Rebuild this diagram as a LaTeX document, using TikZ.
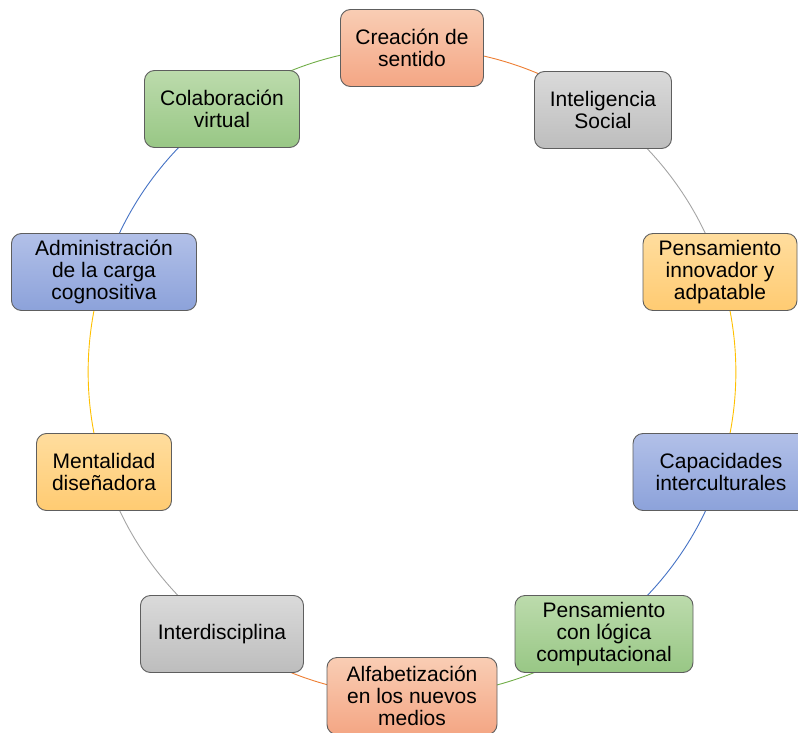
\documentclass[tikz,border=0pt]{standalone}
\usepackage{fontspec}
\setmainfont{Liberation Sans}
\usetikzlibrary{backgrounds}
\definecolor{orTop}{HTML}{F9CDB4}\definecolor{orBot}{HTML}{F4A684}\definecolor{orLine}{HTML}{ED7D31}
\definecolor{grTop}{HTML}{DADADA}\definecolor{grBot}{HTML}{BDBDBD}\definecolor{grLine}{HTML}{A5A5A5}
\definecolor{yeTop}{HTML}{FFDD9E}\definecolor{yeBot}{HTML}{FFCB72}\definecolor{yeLine}{HTML}{FFC000}
\definecolor{blTop}{HTML}{B2C0E8}\definecolor{blBot}{HTML}{8CA2DA}\definecolor{blLine}{HTML}{4472C4}
\definecolor{gnTop}{HTML}{BCDBAC}\definecolor{gnBot}{HTML}{98C785}\definecolor{gnLine}{HTML}{70AD47}
\definecolor{boxEdge}{HTML}{5E5E5E}
\tikzset{
  cbox/.style={draw=boxEdge, line width=0.9pt, rounded corners=10pt, align=center,
    inner sep=0pt, minimum height=77pt,
    font=\fontsize{21}{21.8}\selectfont},
  orbox/.style={cbox, top color=orTop, bottom color=orBot},
  grbox/.style={cbox, top color=grTop, bottom color=grBot},
  yebox/.style={cbox, top color=yeTop, bottom color=yeBot},
  blbox/.style={cbox, top color=blTop, bottom color=blBot},
  gnbox/.style={cbox, top color=gnTop, bottom color=gnBot},
  ring/.style={line width=0.9pt}
}
\begin{document}
\begin{tikzpicture}[x=1pt,y=-1pt]
\useasboundingbox (0,0) rectangle (798,733);
\node[orbox, minimum width=143pt] (n1) at (412,48) {Creación de\\sentido};
\node[grbox, minimum width=137pt] (n2) at (603,110) {Inteligencia\\Social};
\node[yebox, minimum width=154pt] (n3) at (720,272) {Pensamiento\\innovador y\\adpatable};
\node[blbox, minimum width=176pt] (n4) at (721,472) {Capacidades\\interculturales};
\node[gnbox, minimum width=178pt] (n5) at (604,634) {Pensamiento\\con lógica\\computacional};
\node[orbox, minimum width=170pt] (n6) at (412,696) {Alfabetización\\en los nuevos\\medios};
\node[grbox, minimum width=163pt] (n7) at (222,634) {Interdisciplina};
\node[yebox, minimum width=135pt] (n8) at (104,472) {Mentalidad\\diseñadora};
\node[blbox, minimum width=185pt] (n9) at (104,272) {Administración\\de la carga\\cognositiva};
\node[gnbox, minimum width=155pt] (n10) at (222,109) {Colaboración\\virtual};
\begin{scope}[on background layer]
\draw[ring, orLine] (n1.center) arc[start angle=-90, end angle=-54, radius=324];
\draw[ring, grLine] (n2.center) arc[start angle=-54, end angle=-18, radius=324];
\draw[ring, yeLine] (n3.center) arc[start angle=-18, end angle=18, radius=324];
\draw[ring, blLine] (n4.center) arc[start angle=18, end angle=54, radius=324];
\draw[ring, gnLine] (n5.center) arc[start angle=54, end angle=90, radius=324];
\draw[ring, orLine] (n6.center) arc[start angle=90, end angle=126, radius=324];
\draw[ring, grLine] (n7.center) arc[start angle=126, end angle=162, radius=324];
\draw[ring, yeLine] (n8.center) arc[start angle=162, end angle=198, radius=324];
\draw[ring, blLine] (n9.center) arc[start angle=198, end angle=234, radius=324];
\draw[ring, gnLine] (n10.center) arc[start angle=234, end angle=270, radius=324];
\end{scope}
\end{tikzpicture}
\end{document}
